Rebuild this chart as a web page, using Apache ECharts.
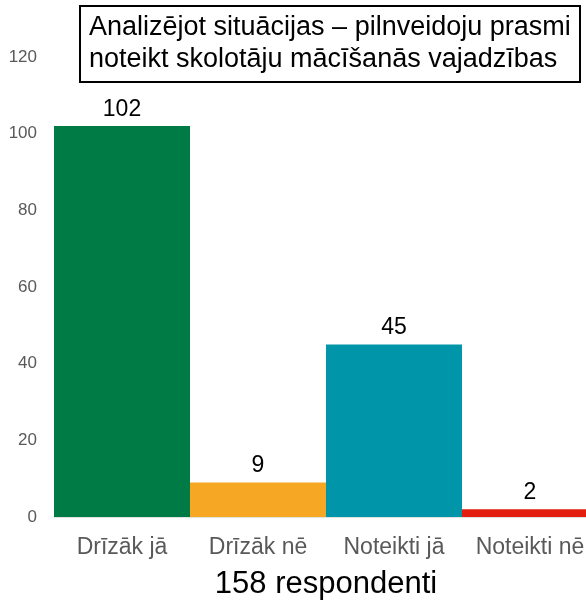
<!DOCTYPE html>
<html>
<head>
<meta charset="utf-8">
<script src="https://cdn.jsdelivr.net/npm/echarts@6/dist/echarts.min.js"></script>
<style>
  html, body { margin: 0; padding: 0; background: #fff; }
  #main { width: 586px; height: 601px; }
</style>
</head>
<body>
<div id="main"></div>
<script>
// categories and values
const categories = ['Drīzāk jā', 'Drīzāk nē', 'Noteikti jā', 'Noteikti nē'];
const counts = [102, 9, 45, 2];
const barColors = ['#007b45', '#f6a724', '#0095a8', '#e3200f'];
const titleText = 'Analizējot situācijas – pilnveidoju prasmi\nnoteikt skolotāju mācīšanās vajadzības';
const axisTitle = '158 respondenti';

const myChart = echarts.init(document.getElementById('main'));

const option = {
  animation: false,
  title: {
    text: titleText,
    left: 80,
    top: 6,
    padding: [6, 10, 6, 9],
    borderColor: '#000',
    borderWidth: 2,
    textStyle: {
      fontFamily: 'Liberation Sans',
      fontSize: 27,
      fontWeight: 'normal',
      color: '#000',
      lineHeight: 32
    }
  },
  grid: {
    left: 54,
    top: 57,
    width: 544,
    height: 460,
    outerBoundsMode: 'none'
  },
  xAxis: {
    type: 'category',
    data: categories,
    name: axisTitle,
    nameLocation: 'middle',
    nameGap: 52,
    nameTextStyle: {
      fontFamily: 'Liberation Sans',
      fontSize: 31,
      color: '#000'
    },
    axisLine: { lineStyle: { color: '#d9d9d9', width: 1.5 } },
    axisTick: { show: false },
    axisLabel: {
      interval: 0,
      hideOverlap: false,
      margin: 19,
      fontFamily: 'Liberation Sans',
      fontSize: 23,
      color: '#595959'
    }
  },
  yAxis: {
    type: 'value',
    min: 0,
    max: 120,
    interval: 20,
    axisLine: { show: false },
    axisTick: { show: false },
    splitLine: { show: false },
    axisLabel: {
      margin: 17,
      fontFamily: 'Liberation Sans',
      fontSize: 17,
      color: '#595959'
    }
  },
  series: [
    {
      type: 'bar',
      data: counts.map((v, i) => ({ value: v, itemStyle: { color: barColors[i] } })),
      barCategoryGap: 0,
      label: {
        show: true,
        position: 'top',
        distance: 5,
        fontFamily: 'Liberation Sans',
        fontSize: 23,
        color: '#000'
      }
    }
  ]
};

myChart.setOption(option);
</script>
</body>
</html>
